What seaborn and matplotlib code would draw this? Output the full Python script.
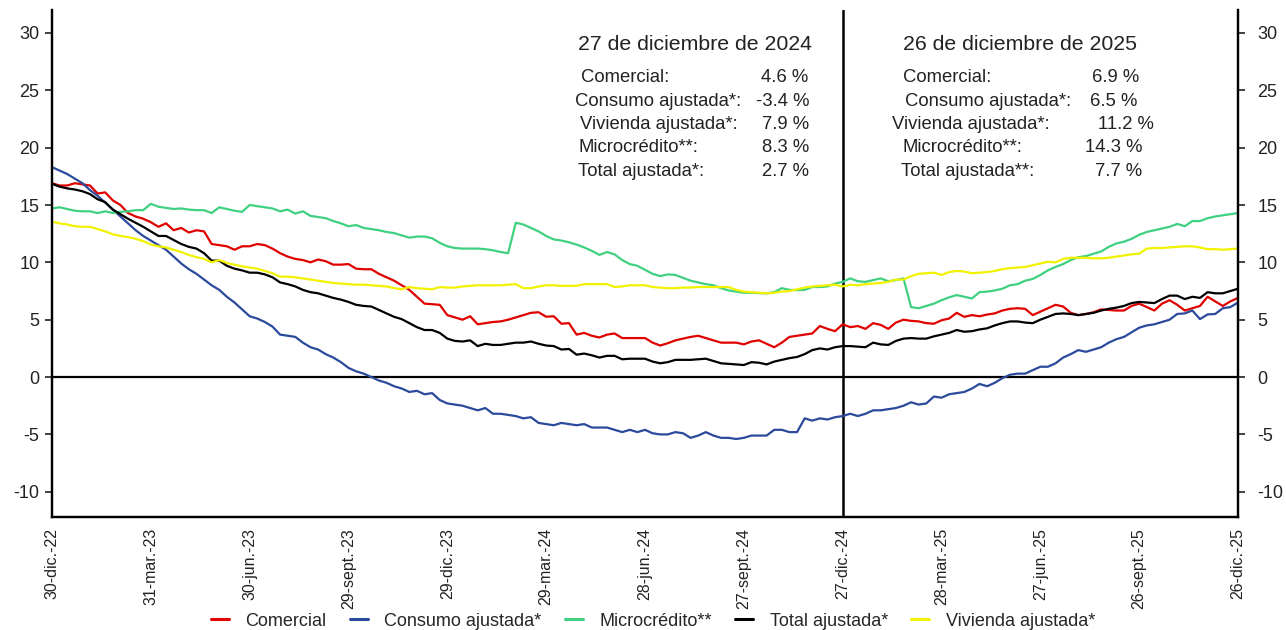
import numpy as np
import pandas as pd
import matplotlib
matplotlib.use("Agg")
import matplotlib.pyplot as plt
import seaborn as sns

# Weekly annual growth of the loan portfolio by segment (%)
fechas = pd.date_range("2022-12-30", periods=157, freq="7D")

comercial = [
    16.9, 16.7, 16.7, 16.9, 16.8, 16.7, 16.0, 16.1, 15.4, 15.0, 14.3, 14.0, 13.8, 13.5, 13.1, 13.4,
    12.8, 13.0, 12.6, 12.8, 12.7, 11.6, 11.5, 11.4, 11.1, 11.4, 11.4, 11.6, 11.5, 11.2, 10.8, 10.5,
    10.3, 10.2, 10.0, 10.25, 10.1, 9.8, 9.8, 9.85, 9.45, 9.4, 9.4, 9.0, 8.7, 8.4, 8.0, 7.6,
    7.0, 6.4, 6.35, 6.3, 5.4, 5.2, 5.0, 5.3, 4.6, 4.7, 4.8, 4.85, 5.0, 5.2, 5.4, 5.6,
    5.65, 5.26, 5.3, 4.65, 4.7, 3.7, 3.85, 3.6, 3.45, 3.7, 3.8, 3.4, 3.4, 3.4, 3.4, 3.0,
    2.75, 2.95, 3.2, 3.35, 3.5, 3.6, 3.4, 3.2, 3.0, 3.0, 3.0, 2.85, 3.1, 3.2, 2.9, 2.6,
    3.0, 3.5, 3.6, 3.7, 3.8, 4.45, 4.2, 4.0, 4.6, 4.35, 4.45, 4.2, 4.7, 4.55, 4.2, 4.75,
    5.0, 4.9, 4.85, 4.7, 4.65, 4.95, 5.1, 5.6, 5.25, 5.4, 5.3, 5.45, 5.55, 5.8, 5.95, 6.0,
    5.95, 5.4, 5.7, 6.0, 6.3, 6.15, 5.6, 5.4, 5.5, 5.65, 5.9, 5.85, 5.8, 5.8, 6.2, 6.4,
    6.1, 5.8, 6.4, 6.7, 6.3, 5.8, 6.0, 6.2, 7.0, 6.6, 6.2, 6.6, 6.9,
]

consumo = [
    18.3, 18.0, 17.7, 17.3, 16.9, 16.3, 15.8, 15.2, 14.6, 14.0, 13.4, 12.8, 12.3, 11.9, 11.5, 11.1,
    10.5, 9.9, 9.4, 9.0, 8.5, 8.0, 7.6, 7.0, 6.5, 5.9, 5.3, 5.1, 4.8, 4.4, 3.7, 3.6,
    3.5, 3.0, 2.6, 2.4, 2.0, 1.7, 1.3, 0.8, 0.5, 0.3, 0.0, -0.3, -0.5, -0.8, -1.0, -1.3,
    -1.2, -1.5, -1.4, -2.0, -2.3, -2.4, -2.5, -2.7, -2.9, -2.7, -3.2, -3.2, -3.3, -3.4, -3.6, -3.5,
    -4.0, -4.1, -4.2, -4.0, -4.1, -4.2, -4.1, -4.4, -4.4, -4.4, -4.6, -4.8, -4.6, -4.8, -4.6, -4.9,
    -5.0, -5.0, -4.8, -4.9, -5.3, -5.1, -4.8, -5.1, -5.3, -5.3, -5.4, -5.3, -5.1, -5.1, -5.1, -4.6,
    -4.6, -4.8, -4.8, -3.6, -3.8, -3.6, -3.7, -3.5, -3.4, -3.2, -3.4, -3.2, -2.9, -2.9, -2.8, -2.7,
    -2.5, -2.2, -2.4, -2.3, -1.7, -1.8, -1.5, -1.4, -1.3, -1.0, -0.6, -0.8, -0.5, -0.1, 0.2, 0.3,
    0.3, 0.6, 0.9, 0.9, 1.2, 1.7, 2.0, 2.35, 2.2, 2.4, 2.6, 3.0, 3.3, 3.5, 3.9, 4.3,
    4.5, 4.6, 4.8, 5.0, 5.5, 5.55, 5.8, 5.05, 5.46, 5.5, 6.0, 6.1, 6.5,
]

microcredito = [
    14.7, 14.8, 14.65, 14.5, 14.45, 14.45, 14.3, 14.45, 14.3, 14.4, 14.45, 14.55, 14.55, 15.1, 14.85, 14.75,
    14.65, 14.7, 14.6, 14.55, 14.55, 14.3, 14.8, 14.65, 14.5, 14.4, 15.0, 14.9, 14.8, 14.7, 14.45, 14.6,
    14.25, 14.45, 14.05, 13.95, 13.85, 13.6, 13.4, 13.15, 13.25, 13.0, 12.9, 12.8, 12.65, 12.55, 12.35, 12.15,
    12.25, 12.25, 12.1, 11.7, 11.4, 11.25, 11.2, 11.2, 11.2, 11.15, 11.05, 10.9, 10.8, 13.45, 13.3, 13.0,
    12.7, 12.3, 12.0, 11.9, 11.75, 11.55, 11.3, 11.0, 10.65, 10.9, 10.7, 10.2, 9.85, 9.7, 9.35, 9.0,
    8.8, 8.95, 8.9, 8.65, 8.4, 8.25, 8.1, 8.0, 7.75, 7.55, 7.45, 7.35, 7.35, 7.32, 7.3, 7.4,
    7.75, 7.6, 7.58, 7.6, 7.85, 7.85, 7.9, 8.15, 8.3, 8.6, 8.35, 8.3, 8.45, 8.6, 8.35, 8.45,
    8.6, 6.1, 6.0, 6.2, 6.4, 6.7, 6.95, 7.15, 7.0, 6.85, 7.4, 7.45, 7.55, 7.7, 8.0, 8.1,
    8.4, 8.55, 8.9, 9.3, 9.6, 9.85, 10.2, 10.45, 10.55, 10.75, 10.95, 11.35, 11.65, 11.8, 12.05, 12.4,
    12.65, 12.8, 12.95, 13.1, 13.35, 13.15, 13.6, 13.6, 13.85, 14.0, 14.1, 14.2, 14.3,
]

total = [
    16.85, 16.6, 16.45, 16.35, 16.2, 15.95, 15.5, 15.25, 14.6, 14.2, 13.8, 13.45, 13.1, 12.7, 12.3, 12.3,
    11.95, 11.6, 11.35, 11.2, 10.8, 10.15, 10.15, 9.7, 9.45, 9.3, 9.1, 9.1, 8.95, 8.7, 8.25, 8.1,
    7.9, 7.6, 7.4, 7.3, 7.1, 6.9, 6.75, 6.55, 6.3, 6.2, 6.15, 5.85, 5.55, 5.25, 5.05, 4.7,
    4.35, 4.1, 4.1, 3.85, 3.35, 3.15, 3.1, 3.2, 2.7, 2.9, 2.8, 2.8, 2.9, 3.0, 3.0, 3.1,
    2.9, 2.75, 2.7, 2.4, 2.45, 1.95, 2.05, 1.9, 1.7, 1.85, 1.85, 1.55, 1.6, 1.6, 1.6, 1.35,
    1.2, 1.3, 1.5, 1.5, 1.5, 1.55, 1.6, 1.4, 1.2, 1.15, 1.1, 1.05, 1.3, 1.25, 1.1, 1.35,
    1.5, 1.65, 1.75, 2.0, 2.35, 2.5, 2.4, 2.6, 2.7, 2.7, 2.65, 2.6, 3.0, 2.85, 2.8, 3.15,
    3.35, 3.4, 3.35, 3.35, 3.55, 3.7, 3.85, 4.1, 3.95, 4.0, 4.15, 4.25, 4.5, 4.7, 4.85, 4.85,
    4.75, 4.7, 5.0, 5.25, 5.5, 5.55, 5.5, 5.4, 5.5, 5.6, 5.8, 5.95, 6.05, 6.2, 6.45, 6.55,
    6.5, 6.45, 6.8, 7.1, 7.1, 6.8, 7.0, 6.9, 7.4, 7.3, 7.3, 7.5, 7.7,
]

vivienda = [
    13.55, 13.4, 13.3, 13.15, 13.1, 13.1, 12.9, 12.7, 12.45, 12.3, 12.2, 12.05, 11.85, 11.55, 11.4, 11.3,
    11.1, 10.9, 10.65, 10.45, 10.3, 10.0, 10.2, 9.95, 9.8, 9.65, 9.55, 9.45, 9.25, 9.05, 8.75, 8.75,
    8.7, 8.6, 8.5, 8.4, 8.3, 8.2, 8.15, 8.1, 8.05, 8.05, 8.0, 7.95, 7.9, 7.75, 7.65, 7.85,
    7.75, 7.7, 7.65, 7.85, 7.8, 7.8, 7.9, 7.95, 8.0, 8.0, 8.0, 8.0, 8.05, 8.1, 7.75, 7.75,
    7.9, 8.0, 8.0, 7.95, 7.95, 7.95, 8.1, 8.1, 8.1, 8.1, 7.85, 7.9, 8.0, 8.0, 8.0, 7.85,
    7.8, 7.75, 7.75, 7.8, 7.8, 7.85, 7.85, 7.85, 7.85, 7.85, 7.6, 7.45, 7.4, 7.35, 7.3, 7.35,
    7.45, 7.5, 7.65, 7.8, 7.9, 7.95, 8.0, 8.05, 7.9, 8.05, 8.0, 8.1, 8.15, 8.2, 8.3, 8.5,
    8.5, 8.8, 9.0, 9.05, 9.1, 8.9, 9.15, 9.25, 9.2, 9.05, 9.1, 9.15, 9.25, 9.4, 9.5, 9.55,
    9.6, 9.75, 9.9, 10.05, 10.0, 10.3, 10.4, 10.4, 10.4, 10.35, 10.35, 10.4, 10.5, 10.6, 10.7, 10.75,
    11.2, 11.25, 11.25, 11.3, 11.35, 11.4, 11.4, 11.3, 11.15, 11.15, 11.1, 11.15, 11.2,
]

series_nombres = ["Comercial", "Consumo ajustada*", "Microcrédito**", "Total ajustada*", "Vivienda ajustada*"]
series_valores = [comercial, consumo, microcredito, total, vivienda]
colores = ["#e00000", "#2b4a9c", "#3fd080", "#000000", "#f2f200"]

etiquetas_x = ["30-dic.-22", "31-mar.-23", "30-jun.-23", "29-sept.-23", "29-dic.-23", "29-mar.-24",
               "28-jun.-24", "27-sept.-24", "27-dic.-24", "28-mar.-25", "27-jun.-25", "26-sept.-25",
               "26-dic.-25"]

corte = 104  # week of 27-dic-24
fecha_corte_txt = "27 de diciembre de 2024"
fecha_final_txt = "26 de diciembre de 2025"
etiquetas_corte = ["Comercial:", "Consumo ajustada*:", "Vivienda ajustada*:", "Microcrédito**:", "Total ajustada*:"]
etiquetas_final = ["Comercial:", "Consumo ajustada*:", "Vivienda ajustada*:", "Microcrédito**:", "Total ajustada**:"]
orden_tabla = [0, 1, 4, 2, 3]

df = pd.concat(
    [pd.DataFrame({"fecha": fechas, "valor": v, "serie": n}) for n, v in zip(series_nombres, series_valores)],
    ignore_index=True,
)

sns.set_style("white")
plt.rcParams["font.family"] = ["Liberation Sans", "DejaVu Sans"]
plt.rcParams["axes.unicode_minus"] = False

W, H = 1286, 630
fig = plt.figure(figsize=(W / 100, H / 100), dpi=100)
ax = fig.add_axes([52 / W, 1 - 517 / H, (1238 - 52) / W, (517 - 10) / H])

sns.lineplot(data=df, x="fecha", y="valor", hue="serie", hue_order=series_nombres,
             palette=colores, linewidth=1.6, ax=ax, legend=False)

ax.set_xlim(fechas[0], fechas[-1])
ylim = (-12.2, 32.0)
ax.set_ylim(*ylim)
ax.axhline(0, color="black", linewidth=1.6, zorder=1)
ax.axvline(fechas[corte], color="black", linewidth=1.8, zorder=1)

ax.set_xticks(fechas[::13])
ax.set_xticklabels(etiquetas_x, rotation=90, fontsize=11.5, color="#222222")
yt = np.arange(-10, 31, 5)
ax.set_yticks(yt)
ax.tick_params(axis="y", direction="out", length=5, width=1.2, labelsize=13, colors="#222222", pad=4)
ax.tick_params(axis="x", direction="out", length=5, width=1.2, pad=3)
ax.set_xlabel("")
ax.set_ylabel("")

# Mirror the value scale on the right side
ax2 = ax.twinx()
ax2.set_ylim(*ylim)
ax2.set_yticks(yt)
ax2.tick_params(axis="y", direction="out", length=5, width=1.2, labelsize=13, colors="#222222", pad=9)
ax2.grid(False)

for a in (ax, ax2):
    for s in a.spines.values():
        s.set_color("black")
        s.set_linewidth(1.6)
    a.spines["top"].set_visible(False)


def px(x, y):
    return x / W, 1 - y / H


# Summary tables for the two reference dates
def tabla(idx, titulo, etiquetas, x_tit, x_lab, x_val):
    fig.text(*px(x_tit, 45), titulo, fontsize=15.3, ha="center", va="center", color="#222222")
    for k, (j, lab) in enumerate(zip(orden_tabla, etiquetas)):
        yy = 78 + k * 23.3
        fig.text(*px(x_lab[k], yy), lab, fontsize=13.3, ha="left", va="center", color="#222222")
        fig.text(*px(x_val[k], yy), f"{series_valores[j][idx]:.1f} %", fontsize=13.3,
                 ha="left", va="center", color="#222222")


tabla(corte, fecha_corte_txt, etiquetas_corte, 695,
      [581, 575, 580, 578, 578], [761, 756, 762, 762, 762])
tabla(len(fechas) - 1, fecha_final_txt, etiquetas_final, 1020,
      [903, 905, 892, 902, 901], [1092, 1090, 1098, 1085, 1095])

handles = [plt.Line2D([], [], color=c, linewidth=2.2) for c in colores]
fig.legend(handles, series_nombres, loc="center", bbox_to_anchor=(653 / W, 1 - 621 / H), ncol=5,
           frameon=False, handlelength=1.0, handletextpad=0.9, columnspacing=1.3,
           prop={"family": ["Liberation Sans", "DejaVu Sans"], "size": 13})

fig.savefig("out.png", dpi=100, facecolor="white")
